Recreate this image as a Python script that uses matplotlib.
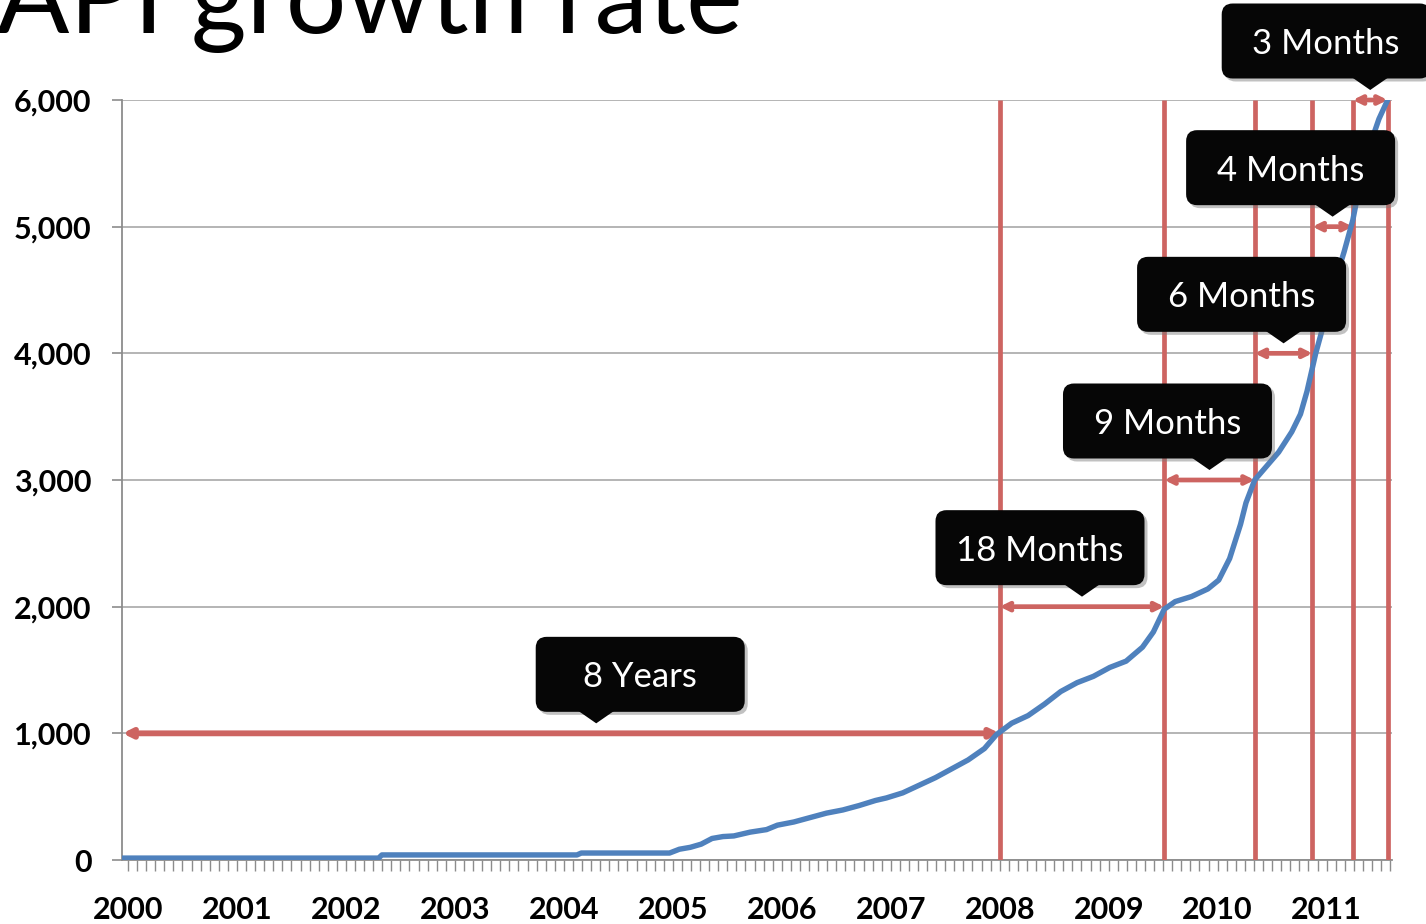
import numpy as np
import matplotlib
matplotlib.use("Agg")
import matplotlib.pyplot as plt
from matplotlib.patches import FancyBboxPatch, Polygon
from matplotlib.transforms import IdentityTransform, ScaledTranslation
from matplotlib.ticker import MultipleLocator, FuncFormatter

plt.rcParams['font.family'] = ['Lato', 'DejaVu Sans']

# ---- data ----
dates = [1999.95, 2002.3, 2002.33, 2004.12, 2004.16, 2004.97, 2005.06, 2005.16,
         2005.26, 2005.36, 2005.46, 2005.56, 2005.71, 2005.86, 2005.96, 2006.11,
         2006.26, 2006.41, 2006.56, 2006.71, 2006.86, 2006.96, 2007.11, 2007.26,
         2007.41, 2007.56, 2007.71, 2007.86, 2007.97, 2008.11, 2008.26, 2008.41,
         2008.56, 2008.71, 2008.86, 2009.01, 2009.16, 2009.31, 2009.41, 2009.51,
         2009.61, 2009.76, 2009.91, 2010.01, 2010.11, 2010.21, 2010.26, 2010.34,
         2010.44, 2010.56, 2010.68, 2010.76, 2010.82, 2010.9, 2010.98, 2011.06,
         2011.16, 2011.24, 2011.32, 2011.4, 2011.48, 2011.56]
apis = [15, 15, 40, 40, 55, 55, 85, 100,
        125, 170, 185, 190, 220, 240, 275, 300,
        335, 370, 395, 430, 470, 490, 530, 590,
        650, 720, 790, 880, 990, 1080, 1140, 1230,
        1330, 1400, 1450, 1520, 1570, 1680, 1800, 1980,
        2040, 2080, 2140, 2210, 2380, 2650, 2820, 3000,
        3100, 3220, 3380, 3520, 3700, 4000, 4250, 4520,
        4800, 5050, 5400, 5650, 5850, 6000]

boundaries = [1999.95, 2008.0, 2009.51, 2010.34, 2010.87, 2011.24, 2011.56]
levels = [1000, 2000, 3000, 4000, 5000, 6000]
labels = ['8 Years', '18 Months', '9 Months', '6 Months', '4 Months', '3 Months']
year_ticks = list(range(2000, 2012))
y_ticks = [0, 1000, 2000, 3000, 4000, 5000, 6000]

# ---- style ----
RED = '#CD6461'
BLUE = '#4F81BD'
GRID = '#A8A8A8'
pointer_frac = [0.54, 0.5, 0.5, 0.5, 0.5, 0.5]
box_dx = [44, -42, -42, -42, -42, -44]

W, H, DPI = 1426, 924, 100
fig = plt.figure(figsize=(W / DPI, H / DPI), dpi=DPI)
ax = fig.add_axes([122 / W, (H - 860) / H, (1392 - 122) / W, (860 - 100) / H])
ax.set_xlim(1999.945, 2011.6)
ax.set_ylim(0, 6000)

ax.set_yticks(y_ticks)
ax.yaxis.set_major_formatter(FuncFormatter(lambda v, p: f"{int(v):,}"))
ax.xaxis.set_major_locator(MultipleLocator(1))
ax.xaxis.set_minor_locator(MultipleLocator(1 / 12))
ax.set_xticks(year_ticks)
ax.set_xticklabels([str(y) for y in year_ticks])

for s in ['top', 'right']:
    ax.spines[s].set_visible(False)
for s in ['left', 'bottom']:
    ax.spines[s].set_color('#8C8C8C')
    ax.spines[s].set_linewidth(1.3)

ax.grid(axis='y', color=GRID, lw=1.2)
ax.set_axisbelow(True)
ax.tick_params(axis='y', length=7, color='#8C8C8C', width=1.2, pad=15,
               labelsize=22)
ax.tick_params(axis='x', which='both', length=8, color='#8C8C8C', width=1.0,
               direction='out')
ax.tick_params(axis='x', which='major', pad=18, labelsize=22)
for lab in ax.get_xticklabels() + ax.get_yticklabels():
    lab.set_fontweight('bold')

# vertical red lines
ax.vlines(boundaries[1:], 0, 6000, color=RED, lw=3.4, zorder=3)

# horizontal double arrows
for i, lev in enumerate(levels):
    a, b = boundaries[i], boundaries[i + 1]
    ax.annotate('', xy=(b, lev), xytext=(a, lev),
                arrowprops=dict(arrowstyle='<->,head_length=0.5,head_width=0.25',
                                color=RED, lw=4.2 if i == 0 else 3.4,
                                shrinkA=0, shrinkB=0),
                zorder=4, annotation_clip=False)

# curve
ax.plot(dates, apis, color=BLUE, lw=3.9, zorder=5, solid_capstyle='round',
        solid_joinstyle='round')

# callouts
bw, bh = 209, 75
for i, (lab, lev) in enumerate(zip(labels, levels)):
    a, b = boundaries[i], boundaries[i + 1]
    px = a + (b - a) * pointer_frac[i]
    base = IdentityTransform() + ScaledTranslation(px, lev, ax.transData)
    cx, cy = box_dx[i], 59
    shadow = FancyBboxPatch((cx - bw / 2 + 3, cy - bh / 2 - 3), bw, bh,
                            boxstyle='round,pad=0,rounding_size=11',
                            transform=base, fc='#777777', ec='none',
                            alpha=0.45, zorder=6, clip_on=False)
    fig.add_artist(shadow)
    box = FancyBboxPatch((cx - bw / 2, cy - bh / 2), bw, bh,
                         boxstyle='round,pad=0,rounding_size=11',
                         transform=base, fc='#060606', ec='none',
                         zorder=7, clip_on=False)
    fig.add_artist(box)
    tri = Polygon([(-18, cy - bh / 2 + 1), (18, cy - bh / 2 + 1), (0, 10)],
                  closed=True, transform=base, fc='#060606', ec='none',
                  zorder=7, clip_on=False)
    fig.add_artist(tri)
    fig.text(cx, cy - 3, lab, transform=base, ha='center', va='center',
             color='white', fontsize=25, zorder=8)

fig.text(-0.002, 1 - 33 / H, 'API growth rate', fontsize=77, ha='left',
         va='baseline', color='black')

fig.savefig('out.png', dpi=DPI)
